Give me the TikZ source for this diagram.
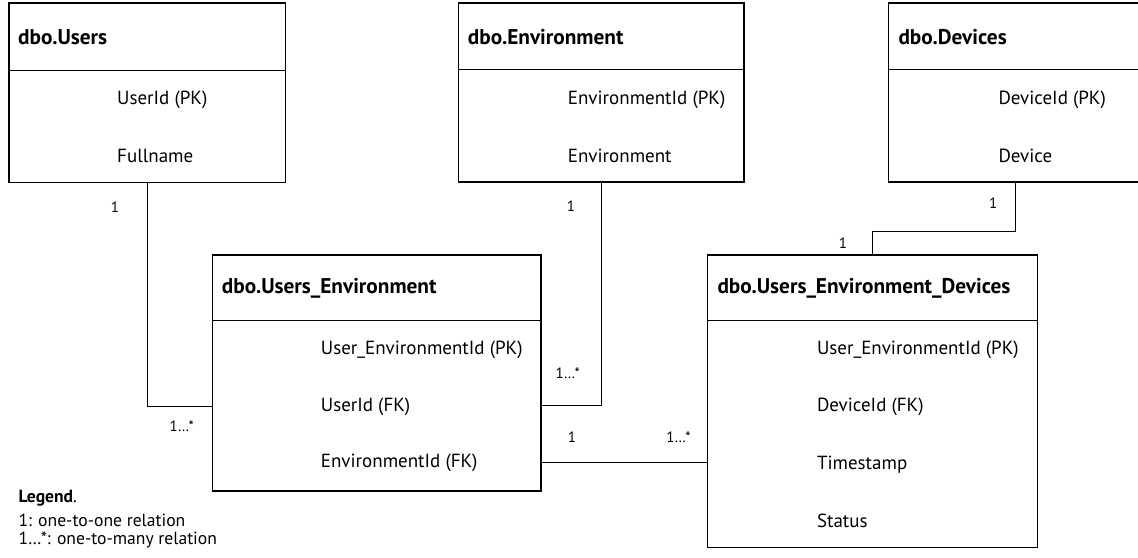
\documentclass[tikz,border=0pt]{standalone}
\usepackage{fontspec}
\setmainfont{PT Sans}
\usetikzlibrary{calc}
\begin{document}
\begin{tikzpicture}[x=1pt,y=-1pt,
  tbl/.style={draw, line width=1.4pt, inner sep=0pt},
  ttl/.style={anchor=west, font=\bfseries\fontsize{21.3}{25}\selectfont, inner sep=0pt},
  fld/.style={anchor=west, font=\fontsize{19}{22}\selectfont, inner sep=0pt},
  conn/.style={line width=1pt},
  card/.style={font=\fontsize{15}{18}\selectfont, inner sep=0pt},
  sepl/.style={line width=0.8pt},
  leg/.style={anchor=west, font=\fontsize{17.6}{20}\selectfont, inner sep=0pt}]
\useasboundingbox (0,0) rectangle (1138,557);
\clip (0,0) rectangle (1138,557);
% dbo.Users
\node[tbl, minimum width=276.7pt, minimum height=179.7pt] (users) at (147.35,92.85) {};
\draw[sepl] (users.west |- 0,70) -- (users.east |- 0,70);
\node[ttl] (usersT) at (18,37) {dbo.Users};
\node[fld] (usersF1) at (117,100) {UserId (PK)};
\node[fld] (usersF2) at (117,156) {Fullname};
% dbo.Environment
\node[tbl, minimum width=285.7pt, minimum height=179pt] (env) at (601.15,92.5) {};
\draw[sepl] (env.west |- 0,69.5) -- (env.east |- 0,69.5);
\node[ttl] (envT) at (467.7,37) {dbo.Environment};
\node[fld] (envF1) at (567.7,100) {EnvironmentId (PK)};
\node[fld] (envF2) at (567.7,156) {Environment};
% dbo.Devices
\node[tbl, minimum width=253.3pt, minimum height=179pt] (dev) at (1015.35,92.5) {};
\draw[sepl] (dev.west |- 0,69.5) -- (dev.east |- 0,69.5);
\node[ttl] (devT) at (898.3,37) {dbo.Devices};
\node[fld] (devF1) at (998.3,100) {DeviceId (PK)};
\node[fld] (devF2) at (998.3,156) {Device};
% dbo.Users_Environment
\node[tbl, minimum width=328.7pt, minimum height=236pt] (ue) at (376.65,373) {};
\draw[sepl] (ue.west |- 0,320.7) -- (ue.east |- 0,320.7);
\node[ttl] (ueT) at (221.7,288.3) {dbo.Users\_Environment};
\node[fld] (ueF1) at (320.7,350) {User\_EnvironmentId (PK)};
\node[fld] (ueF2) at (320.7,406.7) {UserId (FK)};
\node[fld] (ueF3) at (320.7,463.3) {EnvironmentId (FK)};
% dbo.Users_Environment_Devices
\node[tbl, minimum width=329.6pt, minimum height=292.7pt] (ued) at (872.4,401.35) {};
\draw[sepl] (ued.west |- 0,320.7) -- (ued.east |- 0,320.7);
\node[ttl] (uedT) at (717.3,288.3) {dbo.Users\_Environment\_Devices};
\node[fld] (uedF1) at (816.8,350) {User\_EnvironmentId (PK)};
\node[fld] (uedF2) at (816.8,407.3) {DeviceId (FK)};
\node[fld] (uedF3) at (816.8,464.3) {Timestamp};
\node[fld] (uedF4) at (816.8,521) {Status};
% connectors
\draw[conn] (users.south) |- (ue.west |- 0,406);
\draw[conn] (env.south) |- (ue.east |- 0,405.7);
\draw[conn] (ue.east |- 0,462.3) -- (ued.west |- 0,462.3);
\coordinate (devbend) at (1015.35,231.7);
\draw[conn] (dev.south) -- (devbend) -| (ued.north);
% cardinalities
\node[card] (c1) at (115,206.7) {1};
\node[card] (c2) at (181.7,426) {1…*};
\node[card] (c3) at (571,206) {1};
\node[card] (c4) at (567.7,373.3) {1…*};
\node[card] (c5) at (572,437.3) {1};
\node[card] (c6) at (678.5,437.3) {1…*};
\node[card] (c7) at (993.3,203) {1};
\node[card] (c8) at (842.9,243.3) {1};
% legend
\node[leg] (legT) at (18.3,498.3) {\textbf{Legend}.};
\node[leg] (leg1) at (18.3,520) {1: one-to-one relation};
\node[leg] (leg2) at (18.3,540) {1…*: one-to-many relation};
\end{tikzpicture}
\end{document}
